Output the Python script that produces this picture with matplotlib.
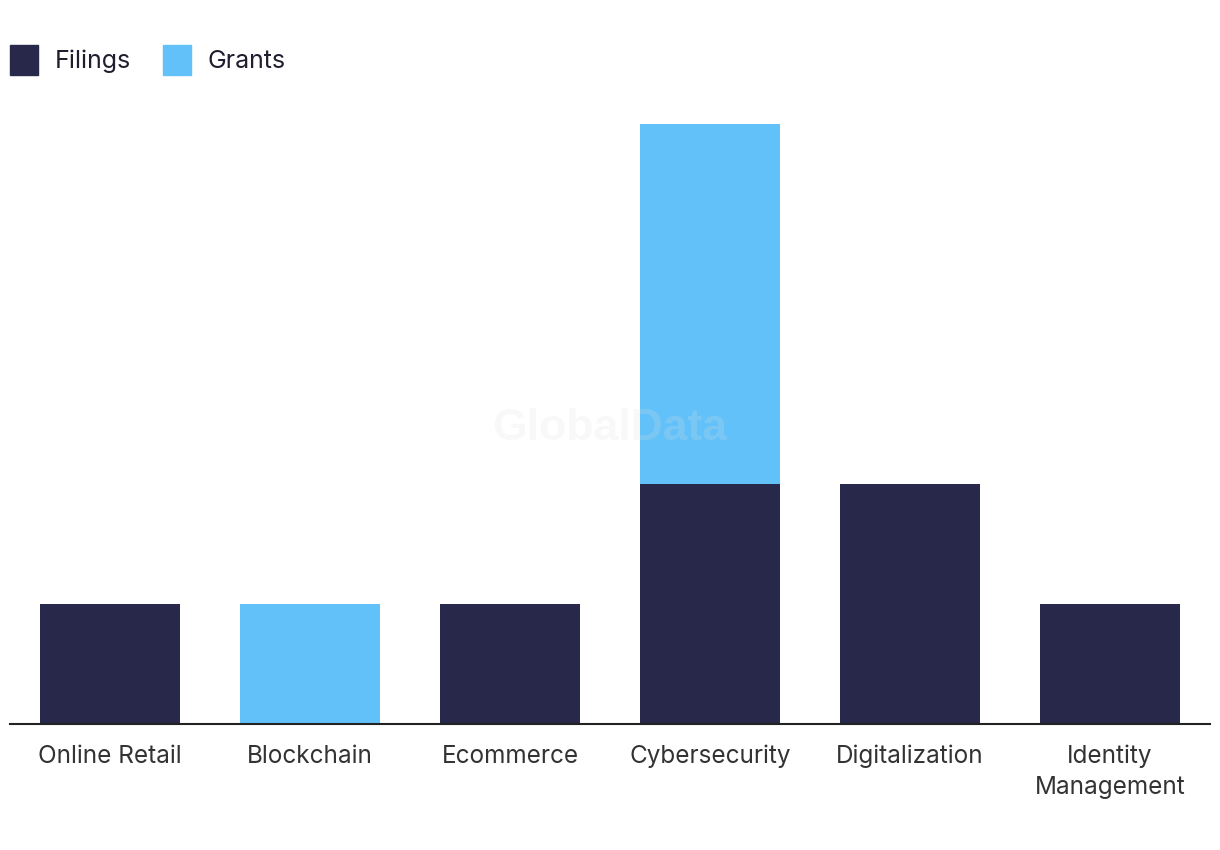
import matplotlib.pyplot as plt
import matplotlib.patches as mpatches
import numpy as np

categories = ['Online Retail', 'Blockchain', 'Ecommerce', 'Cybersecurity',
              'Digitalization', 'Identity\nManagement']
filings = [1, 0, 1, 2, 2, 1]
grants = [0, 1, 0, 3, 0, 0]

navy = '#27284a'
sky = '#62c1f9'

plt.rcParams['font.family'] = ['Inter', 'DejaVu Sans']

fig = plt.figure(figsize=(12.2, 8.5), dpi=100)
ax = fig.add_axes([10 / 1220, 126 / 850, 1200 / 1220, 624 / 850])

x = np.arange(len(categories))
ax.bar(x, filings, width=0.7, color=navy)
ax.bar(x, grants, width=0.7, bottom=filings, color=sky)

ax.set_xlim(-0.5, len(categories) - 0.5)
ax.set_ylim(0, 5.2)
ax.set_xticks(x)
ax.set_xticklabels(categories, fontsize=17.5, color='#333333', linespacing=1.4)
ax.tick_params(axis='x', length=0, pad=15)
ax.set_yticks([])
for side in ['top', 'right', 'left']:
    ax.spines[side].set_visible(False)
ax.spines['bottom'].set_color('#222222')
ax.spines['bottom'].set_linewidth(1.5)

# faint watermark on top of the bars
fig.text(0.5, 1 - 428 / 850, 'GlobalData', ha='center', va='center',
         fontsize=32, fontweight='bold', family='Liberation Sans',
         color='#e0e0e0', alpha=0.2, zorder=10)

handles = [mpatches.Patch(color=navy, label='Filings'),
           mpatches.Patch(color=sky, label='Grants')]
fig.legend(handles=handles, loc='upper left',
           bbox_to_anchor=(10 / 1220, 1 - 45 / 850),
           borderaxespad=0, borderpad=0, ncol=2, frameon=False, fontsize=18,
           handlelength=1.12, handleheight=1.45, handletextpad=0.68,
           columnspacing=1.25, labelcolor='#1e1e2e')

fig.savefig('out.png', dpi=100)
